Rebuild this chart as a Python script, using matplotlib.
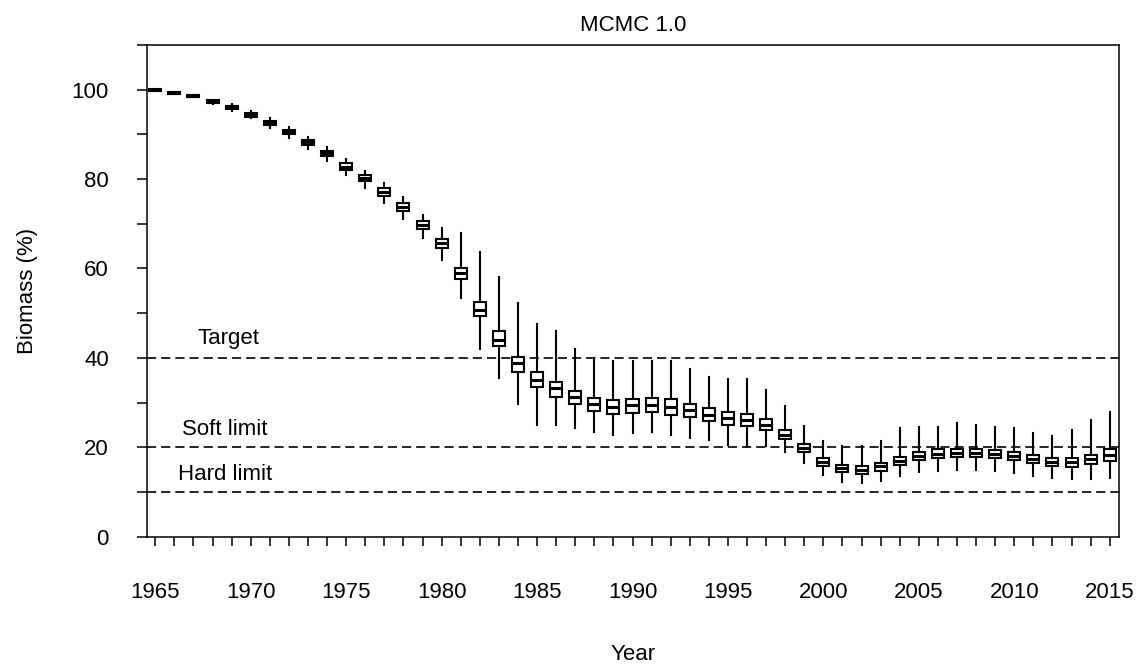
import matplotlib
matplotlib.use("Agg")
import matplotlib.pyplot as plt
from matplotlib.ticker import MultipleLocator

plt.rcParams['font.family'] = ['Liberation Sans', 'DejaVu Sans']

years = list(range(1965, 2016))
median = [100.0, 99.3, 98.6, 97.3, 96.0, 94.4, 92.6, 90.5, 88.3, 85.8,
          82.8, 80.2, 77.1, 73.7, 69.7, 65.6, 58.9, 50.8, 44.1, 38.8,
          35.0, 33.2, 31.2, 29.6, 29.1, 29.4, 29.5, 29.1, 28.3, 27.2,
          26.5, 26.1, 25.0, 22.8, 19.8, 16.8, 15.3, 15.0, 15.7, 17.0,
          18.1, 18.5, 18.8, 18.8, 18.5, 18.1, 17.3, 16.7, 16.6, 17.3, 18.3]
q1 = [99.8, 99.1, 98.4, 97.0, 95.6, 94.0, 92.1, 90.0, 87.7, 85.2,
      82.1, 79.5, 76.3, 72.9, 68.8, 64.6, 57.6, 49.3, 42.6, 36.8,
      33.4, 31.3, 29.6, 28.2, 27.5, 27.6, 27.9, 27.3, 26.7, 25.8,
      25.0, 24.8, 23.9, 21.8, 18.9, 15.9, 14.4, 14.1, 14.8, 16.1,
      17.2, 17.6, 17.8, 17.8, 17.6, 17.2, 16.4, 15.7, 15.6, 16.2, 17.0]
q3 = [100.2, 99.5, 98.8, 97.6, 96.3, 94.8, 93.0, 91.0, 88.8, 86.4,
      83.5, 80.9, 77.9, 74.6, 70.6, 66.5, 60.1, 52.4, 46.0, 40.3,
      36.8, 34.6, 32.7, 31.0, 30.6, 30.9, 31.0, 30.7, 29.6, 28.7,
      27.9, 27.5, 26.3, 23.9, 20.7, 17.6, 16.1, 15.8, 16.4, 17.9,
      19.0, 19.6, 19.7, 19.7, 19.4, 19.0, 18.2, 17.6, 17.5, 18.3, 19.6]
low = [99.8, 99.1, 98.3, 96.9, 95.2, 93.6, 91.5, 89.3, 86.8, 84.1,
       81.0, 78.0, 74.6, 71.1, 66.8, 62.0, 53.5, 42.1, 35.4, 29.6,
       25.0, 25.0, 24.4, 23.4, 22.8, 23.1, 23.4, 22.8, 22.0, 21.6,
       20.5, 20.2, 20.2, 19.0, 16.4, 13.7, 12.3, 12.0, 12.5, 13.5,
       14.4, 14.8, 15.0, 15.0, 14.8, 14.2, 13.6, 13.1, 12.9, 12.9, 13.2]
high = [100.2, 99.5, 98.9, 97.7, 96.8, 95.2, 93.6, 91.7, 89.5, 87.2,
        84.5, 81.9, 79.2, 75.9, 72.0, 69.0, 67.9, 63.7, 58.0, 52.2,
        47.5, 46.0, 41.9, 39.9, 39.4, 39.4, 39.4, 39.4, 37.6, 35.8,
        35.2, 35.3, 32.8, 29.2, 24.8, 21.3, 20.2, 20.2, 21.5, 24.3,
        24.5, 24.6, 25.4, 25.0, 24.6, 24.4, 23.1, 22.5, 23.9, 26.1, 28.0]

ref_levels = [40, 20, 10]
ref_labels = ["Target", "Soft limit", "Hard limit"]
ref_label_x = [1967.2, 1966.4, 1966.2]
ref_label_y = [42.0, 21.7, 11.6]

fig = plt.figure(figsize=(11.4, 6.7), dpi=100)
ax = fig.add_axes([0.1287, 0.199, 0.9818 - 0.1287, 0.9328 - 0.199])

stats = []
for i in range(len(years)):
    stats.append(dict(med=median[i], q1=q1[i], q3=q3[i],
                      whislo=low[i], whishi=high[i], fliers=[]))

ax.bxp(stats, positions=years, widths=0.63, showcaps=False, showfliers=False,
       patch_artist=True, manage_ticks=False,
       boxprops=dict(facecolor='white', edgecolor='black', linewidth=1.5),
       medianprops=dict(color='black', linewidth=2.2),
       whiskerprops=dict(color='black', linewidth=1.5), zorder=3)

for lvl, lab, lx, ly in zip(ref_levels, ref_labels, ref_label_x, ref_label_y):
    ax.axhline(lvl, color='black', linewidth=1.2, linestyle=(0, (5.5, 3)), zorder=2)
    ax.text(lx, ly, lab, fontsize=16, ha='left', va='bottom')

ax.set_xlim(1964.55, 2015.5)
ax.set_ylim(0, 110)

ax.xaxis.set_major_locator(MultipleLocator(5))
ax.xaxis.set_minor_locator(MultipleLocator(1))
ax.yaxis.set_major_locator(MultipleLocator(20))
ax.yaxis.set_minor_locator(MultipleLocator(10))
ax.set_yticks([0, 20, 40, 60, 80, 100])

ax.tick_params(axis='x', which='both', direction='out', length=6.5, width=1.1,
               pad=26, labelsize=16)
ax.tick_params(axis='y', which='both', direction='out', length=7.2, width=1.1,
               pad=20, labelsize=16)

for sp in ax.spines.values():
    sp.set_linewidth(1.1)

ax.set_title("MCMC 1.0", fontsize=16, pad=10)
ax.set_xlabel("Year", fontsize=16, labelpad=30)
ax.set_ylabel("Biomass (%)", fontsize=16, labelpad=24)

fig.savefig("out.png", dpi=100)
